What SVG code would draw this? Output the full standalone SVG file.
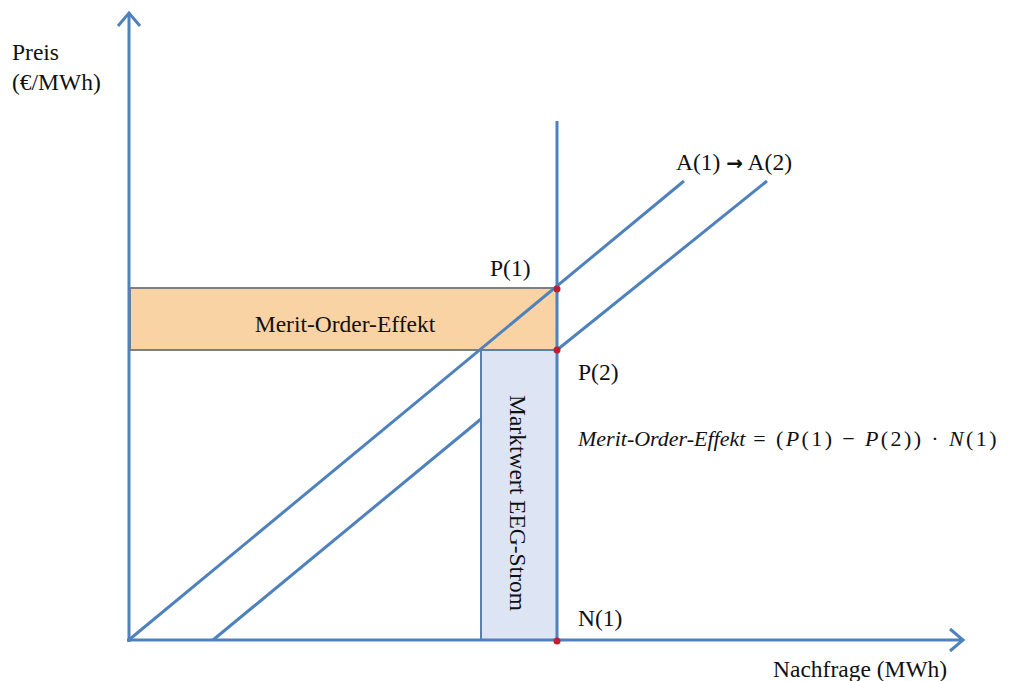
<svg xmlns="http://www.w3.org/2000/svg" width="1011" height="681" viewBox="0 0 1011 681">
<defs>
<style>
.ax{stroke:#4f81bd;stroke-width:3;fill:none}
.ln{stroke:#4f81bd;stroke-width:3;fill:none}
.t{font-family:"Liberation Serif",serif;font-size:23.5px;fill:#111}
.f{font-size:22px}
.i{font-style:italic}
.dot{fill:#c0202e}
</style>
</defs>
<rect width="1011" height="681" fill="#fff"/>
<g id="merit-order-rect">
<rect x="130" y="288" width="427" height="62" fill="#fad3a5" stroke="#7f7f7f" stroke-width="2"/>
<text class="t" x="345" y="332" text-anchor="middle">Merit-Order-Effekt</text>
</g>
<g id="marktwert-rect">
<rect x="481" y="350" width="76" height="290" fill="#dde4f4" stroke="#5a7fb0" stroke-width="2"/>
<text class="t" transform="translate(510,503) rotate(90)" text-anchor="middle">Marktwert EEG-Strom</text>
</g>
<g id="connectors">
<line class="ax" x1="129" y1="642" x2="129" y2="14"/>
<path d="M118,26 L129,13 L140,26" class="ax"/>
<line class="ax" x1="127" y1="640" x2="962" y2="640"/>
<path d="M950,629 L963,640 L950,651" class="ax"/>
<line class="ln" x1="557" y1="121" x2="557" y2="640"/>
<line class="ln" x1="130" y1="639" x2="684" y2="181"/>
<line class="ln" x1="213" y1="640" x2="481" y2="419"/>
<line class="ln" x1="557" y1="350" x2="767" y2="181"/>
</g>
<g id="points">
<circle class="dot" cx="557" cy="289" r="3.5"/>
<circle class="dot" cx="557" cy="350" r="3.5"/>
<circle class="dot" cx="557" cy="641" r="3.5"/>
</g>
<g id="labels">
<text class="t" x="12" y="60">Preis</text>
<text class="t" x="12" y="90">(€/MWh)</text>
<text class="t" x="490" y="276">P(1)</text>
<text class="t" x="578" y="380">P(2)</text>
<text class="t" x="578" y="626">N(1)</text>
<text class="t" x="773" y="677">Nachfrage (MWh)</text>
<text class="t" x="676" y="170">A(1) <tspan font-family="DejaVu Sans,sans-serif" font-weight="bold" font-size="20">→</tspan> A(2)</text>
<text class="t f" x="578" y="446"><tspan class="i">Merit-Order-Effekt</tspan><tspan letter-spacing="2.4"> = (<tspan class="i">P</tspan>(1) − <tspan class="i">P</tspan>(2)) · <tspan class="i">N</tspan>(1)</tspan></text>
</g>
</svg>
